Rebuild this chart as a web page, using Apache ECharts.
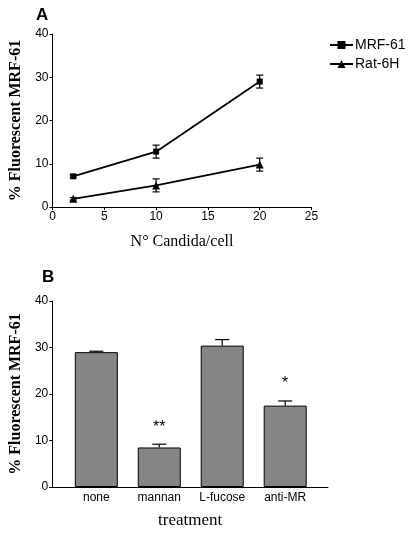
<!DOCTYPE html>
<html><head><meta charset="utf-8">
<script src="https://cdn.jsdelivr.net/npm/echarts@6/dist/echarts.min.js"></script>
<style>html,body{margin:0;padding:0;background:#fff}#c{width:410px;height:537px}</style>
</head><body><div id="c"></div>
<script>
// Panel A data
const candidaPerCell = [2, 10, 20];
const mrf61 = [7.1, 12.8, 29.0];
const mrf61Err = [0.3, 1.5, 1.5];
const rat6H = [1.9, 5.0, 9.8];
const rat6HErr = [0.3, 1.5, 1.5];
const xTicksA = [0, 5, 10, 15, 20, 25];
const yTicks = [0, 10, 20, 30, 40];
// Panel B data
const treatments = ['none', 'mannan', 'L-fucose', 'anti-MR'];
const treatVals = [29.0, 8.5, 30.4, 17.5];
const treatErr = [0.2, 0.7, 1.3, 1.0];
const signif = ['', '**', '', '*'];

const sans = 'Liberation Sans';
const serif = 'Liberation Serif';

function errRender(upOnly, stars) {
  return function (params, api) {
    const x = api.value(0), lo = api.value(1), hi = api.value(2);
    const pHi = api.coord([x, hi]);
    const pLo = api.coord([x, lo]);
    const w = upOnly ? 7 : 3.5;
    const st = { stroke: '#000', lineWidth: 1.2 };
    const ch = [
      { type: 'line', shape: { x1: pHi[0], y1: pHi[1], x2: pLo[0], y2: pLo[1] }, style: st },
      { type: 'line', shape: { x1: pHi[0] - w, y1: pHi[1], x2: pHi[0] + w, y2: pHi[1] }, style: st }
    ];
    if (!upOnly) ch.push({ type: 'line', shape: { x1: pLo[0] - w, y1: pLo[1], x2: pLo[0] + w, y2: pLo[1] }, style: st });
    if (stars && stars[params.dataIndex]) {
      ch.push({ type: 'text', x: pHi[0], y: pHi[1] - 17, style: { text: stars[params.dataIndex], fontSize: 16, fontFamily: sans, fill: '#000', align: 'center', verticalAlign: 'middle' } });
    }
    return { type: 'group', children: ch };
  };
}

function axisBase() {
  return {
    axisLine: { show: true, onZero: false, lineStyle: { color: '#000', width: 1 } },
    axisTick: { show: true, length: 3, lineStyle: { color: '#000' } },
    axisLabel: { color: '#000', fontFamily: sans, fontSize: 12, margin: 4 },
    splitLine: { show: false }
  };
}

const chart = echarts.init(document.getElementById('c'), null, { renderer: 'canvas' });
chart.setOption({
  animation: false,
  backgroundColor: '#fff',
  title: [
    { text: 'A', left: 31, top: 2, textStyle: { fontFamily: sans, fontWeight: 'bold', fontSize: 17, color: '#000' } },
    { text: 'B', left: 37, top: 264, textStyle: { fontFamily: sans, fontWeight: 'bold', fontSize: 17, color: '#000' } }
  ],
  legend: {
    left: 329, top: 38, padding: 0, orient: 'vertical', itemGap: 5, itemWidth: 23, itemHeight: 10,
    data: ['MRF-61', 'Rat-6H'],
    textStyle: { fontFamily: sans, fontSize: 14, color: '#000', padding: [0, 0, 0, -3] }
  },
  grid: [
    { left: 52.5, top: 34, width: 259, height: 173 },
    { left: 50, top: 301, width: 278, height: 186 }
  ],
  xAxis: [
    Object.assign(axisBase(), {
      gridIndex: 0, type: 'value', min: 0, max: 25, interval: 5,
      name: 'N° Candida/cell', nameLocation: 'middle', nameGap: 27,
      nameTextStyle: { fontFamily: serif, fontSize: 16, color: '#000' }
    }),
    Object.assign(axisBase(), {
      gridIndex: 1, type: 'value', min: -0.7, max: 3.68,
      axisTick: { show: false },
      axisLabel: { color: '#000', fontFamily: sans, fontSize: 12, margin: 5, customValues: [0, 1, 2, 3], formatter: v => treatments[Math.round(v)] },
      name: 'treatment', nameLocation: 'middle', nameGap: 25,
      nameTextStyle: { fontFamily: serif, fontSize: 17, color: '#000' }
    })
  ],
  yAxis: [
    Object.assign(axisBase(), {
      gridIndex: 0, type: 'value', min: 0, max: 40, interval: 10,
      name: '% Fluorescent MRF-61', nameLocation: 'middle', nameGap: 27,
      nameTextStyle: { fontFamily: serif, fontWeight: 'bold', fontSize: 16, color: '#000' }
    }),
    Object.assign(axisBase(), {
      gridIndex: 1, type: 'value', min: 0, max: 40, interval: 10,
      name: '% Fluorescent MRF-61', nameLocation: 'middle', nameGap: 25,
      nameTextStyle: { fontFamily: serif, fontWeight: 'bold', fontSize: 16, color: '#000' }
    })
  ],
  series: [
    {
      name: 'MRF-61', type: 'line', xAxisIndex: 0, yAxisIndex: 0,
      data: candidaPerCell.map((x, i) => [x, mrf61[i]]),
      symbol: 'rect', symbolSize: 6,
      lineStyle: { color: '#000', width: 1.8 }, itemStyle: { color: '#000' }
    },
    {
      name: 'Rat-6H', type: 'line', xAxisIndex: 0, yAxisIndex: 0,
      data: candidaPerCell.map((x, i) => [x, rat6H[i]]),
      symbol: 'triangle', symbolSize: 8,
      lineStyle: { color: '#000', width: 1.8 }, itemStyle: { color: '#000' }
    },
    {
      type: 'custom', xAxisIndex: 0, yAxisIndex: 0, z: 5,
      data: candidaPerCell.map((x, i) => [x, mrf61[i] - mrf61Err[i], mrf61[i] + mrf61Err[i]]),
      renderItem: errRender(false)
    },
    {
      type: 'custom', xAxisIndex: 0, yAxisIndex: 0, z: 5,
      data: candidaPerCell.map((x, i) => [x, rat6H[i] - rat6HErr[i], rat6H[i] + rat6HErr[i]]),
      renderItem: errRender(false)
    },
    {
      type: 'bar', xAxisIndex: 1, yAxisIndex: 1, barWidth: 43,
      data: treatVals.map((v, i) => [i, v]),
      itemStyle: { color: '#858585', borderColor: '#000', borderWidth: 1 }
    },
    {
      type: 'custom', xAxisIndex: 1, yAxisIndex: 1, z: 5,
      data: treatVals.map((v, i) => [i, v, v + treatErr[i]]),
      renderItem: errRender(true, signif)
    }
  ]
});
</script></body></html>
